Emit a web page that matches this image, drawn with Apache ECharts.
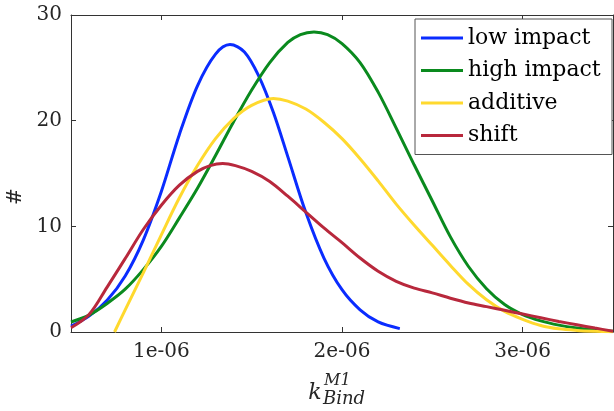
<!DOCTYPE html>
<html>
<head>
<meta charset="utf-8">
<script src="https://cdn.jsdelivr.net/npm/echarts@6/dist/echarts.min.js"></script>
<style>html,body{margin:0;padding:0;background:#fff}#c{width:614px;height:411px}</style>
</head>
<body>
<div id="c"></div>
<script>
// x values are in units of 1e-6 (k_Bind^M1)
const seriesNames = ['low impact', 'high impact', 'additive', 'shift'];

const lowX = [0.5, 0.6, 0.7, 0.8, 0.9, 1.0, 1.1, 1.2, 1.3, 1.38, 1.46, 1.54, 1.62, 1.7, 1.8, 1.9, 2.0, 2.1, 2.2, 2.32];
const lowY = [0.55, 1.5, 3.0, 5.3, 8.7, 13.3, 18.7, 23.3, 26.3, 27.2, 26.5, 24.2, 20.8, 16.6, 11.3, 7.0, 4.0, 2.1, 0.95, 0.32];

const highX = [0.5, 0.6, 0.7, 0.8, 0.9, 1.0, 1.1, 1.2, 1.3, 1.4, 1.5, 1.6, 1.7, 1.77, 1.845, 1.92, 2.0, 2.1, 2.2, 2.3, 2.4, 2.5, 2.6, 2.7, 2.8, 2.9, 3.0, 3.1, 3.2, 3.3, 3.4, 3.5];
const highY = [0.95, 1.6, 2.7, 4.05, 5.9, 8.1, 10.8, 13.6, 16.7, 19.9, 22.9, 25.5, 27.4, 28.15, 28.4, 28.15, 27.3, 25.5, 22.7, 19.3, 15.8, 12.4, 9.0, 6.2, 4.1, 2.6, 1.65, 1.05, 0.65, 0.38, 0.2, 0.08];

const addX = [0.741, 0.8, 0.9, 1.0, 1.1, 1.2, 1.3, 1.4, 1.5, 1.62, 1.7, 1.8, 1.9, 2.0, 2.1, 2.2, 2.3, 2.4, 2.5, 2.6, 2.7, 2.8, 2.9, 3.0, 3.1, 3.2, 3.3, 3.4, 3.5];
const addY = [0.0, 2.1, 5.6, 9.2, 12.7, 15.75, 18.3, 20.2, 21.45, 22.1, 21.85, 21.1, 19.85, 18.3, 16.4, 14.3, 12.1, 10.1, 8.2, 6.3, 4.5, 3.05, 1.95, 1.2, 0.62, 0.3, 0.15, 0.07, 0.02];

const shiftX = [0.5, 0.6, 0.7, 0.8, 0.9, 1.0, 1.1, 1.2, 1.27, 1.34, 1.41, 1.5, 1.6, 1.7, 1.8, 1.9, 2.0, 2.1, 2.2, 2.3, 2.4, 2.5, 2.6, 2.7, 2.8, 2.9, 3.0, 3.1, 3.2, 3.3, 3.4, 3.5];
const shiftY = [0.4, 1.65, 4.25, 6.95, 9.7, 12.0, 13.9, 15.2, 15.75, 15.95, 15.75, 15.2, 14.25, 12.85, 11.35, 9.85, 8.45, 7.0, 5.75, 4.8, 4.15, 3.7, 3.2, 2.75, 2.4, 2.05, 1.7, 1.35, 1.0, 0.68, 0.37, 0.08];

const xTickValues = [1e-6, 2e-6, 3e-6];
const xTickLabels = ['1e-06', '2e-06', '3e-06'];

const colors = ['#0a2cff', '#0a8a1e', '#ffd92e', '#b8283c'];
const FONT = 'DejaVu Serif';
const AX = '#333333';

function pairs(xs, ys) { return xs.map((x, i) => [x * 1e-6, ys[i]]); }
const allData = [pairs(lowX, lowY), pairs(highX, highY), pairs(addX, addY), pairs(shiftX, shiftY)];

const chart = echarts.init(document.getElementById('c'), null, {renderer: 'canvas'});
const xMin = 0.5e-6, xMax = 3.5e-6;

chart.setOption({
  animation: false,
  backgroundColor: '#ffffff',
  color: colors,
  grid: {left: 71, right: 1, top: 15, bottom: 79, containLabel: false},
  xAxis: [{
    type: 'value', min: xMin, max: xMax, position: 'bottom',
    axisLine: {show: true, onZero: false, lineStyle: {color: AX, width: 1}},
    axisTick: {show: true, inside: true, length: 5, customValues: xTickValues, lineStyle: {color: AX}},
    axisLabel: {show: true, customValues: xTickValues, margin: 10,
      formatter: v => { const i = xTickValues.findIndex(t => Math.abs(t - v) < 1e-12); return i >= 0 ? xTickLabels[i] : ''; },
      fontFamily: FONT, fontSize: 20, color: '#262626'},
    splitLine: {show: false}
  }, {
    type: 'value', min: xMin, max: xMax, position: 'top',
    axisLine: {show: true, onZero: false, lineStyle: {color: AX, width: 1}},
    axisTick: {show: true, inside: true, length: 5, customValues: xTickValues, lineStyle: {color: AX}},
    axisLabel: {show: false},
    splitLine: {show: false}
  }],
  yAxis: [{
    type: 'value', min: 0, max: 30, interval: 10, position: 'left',
    axisLine: {show: true, onZero: false, lineStyle: {color: AX, width: 1}},
    axisTick: {show: true, inside: true, length: 5, lineStyle: {color: AX}},
    axisLabel: {show: true, margin: 9, fontFamily: FONT, fontSize: 20, color: '#262626'},
    splitLine: {show: false}
  }, {
    type: 'value', min: 0, max: 30, interval: 10, position: 'right',
    axisLine: {show: true, onZero: false, lineStyle: {color: AX, width: 1}},
    axisTick: {show: true, inside: true, length: 5, lineStyle: {color: AX}},
    axisLabel: {show: false},
    splitLine: {show: false}
  }],
  legend: {
    orient: 'vertical', right: 2, top: 19,
    data: seriesNames,
    icon: 'rect', itemWidth: 42, itemHeight: 3, itemGap: 10.5, itemTextGap: 6,
    padding: [8, 8, 8, 6],
    backgroundColor: '#ffffff', borderColor: '#555555', borderWidth: 1, borderRadius: 0,
    textStyle: {fontFamily: FONT, fontSize: 22, color: '#000000', lineHeight: 22, width: 136}
  },
  graphic: [
    {type: 'text', x: 15.5, y: 196.5, rotation: Math.PI / 2,
      style: {text: '#', font: '20px "DejaVu Serif"', fill: '#262626', align: 'center', verticalAlign: 'middle'}},
    {type: 'text', x: 315, y: 393,
      style: {text: 'k', font: 'italic 22px "DejaVu Serif"', fill: '#262626', align: 'center', verticalAlign: 'middle'}},
    {type: 'text', x: 324, y: 381,
      style: {text: 'M1', font: 'italic 16px "DejaVu Serif"', fill: '#262626', align: 'left', verticalAlign: 'middle'}},
    {type: 'text', x: 323, y: 399,
      style: {text: 'Bind', font: 'italic 18px "DejaVu Serif"', fill: '#262626', align: 'left', verticalAlign: 'middle'}}
  ],
  series: seriesNames.map((n, i) => ({
    name: n, type: 'line', data: allData[i], smooth: 0.33, showSymbol: false, symbol: 'none',
    clip: true, lineStyle: {width: 3, color: colors[i]}, itemStyle: {color: colors[i]}
  }))
});
</script>
</body>
</html>
